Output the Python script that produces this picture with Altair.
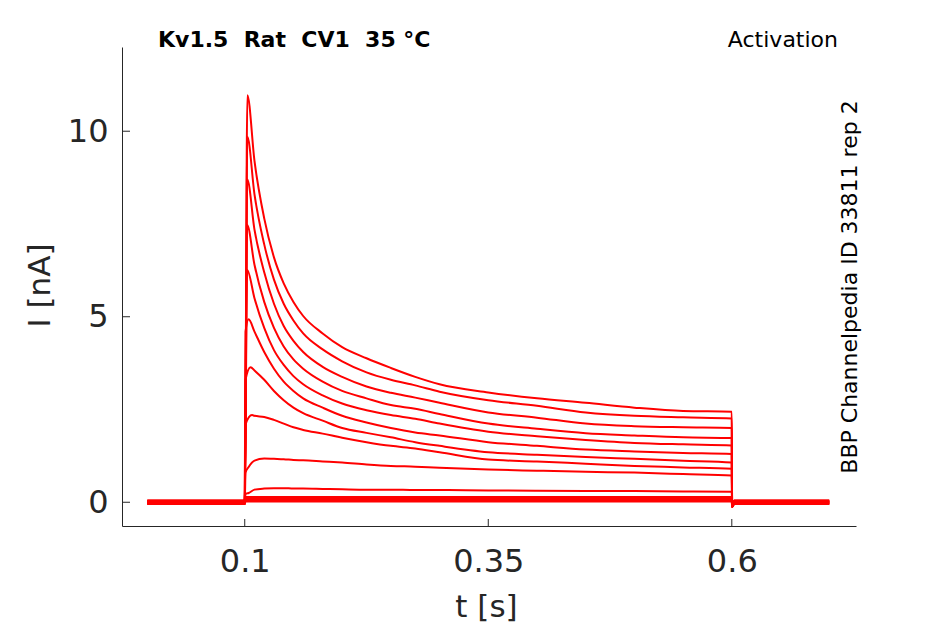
import altair as alt
import pandas as pd

# ---------------- data ----------------
T_GRID = [0.11, 0.12, 0.13, 0.14, 0.15, 0.16, 0.18, 0.20, 0.225, 0.25,
          0.275, 0.30, 0.35, 0.40, 0.45, 0.50, 0.55, 0.60]

# holding current of each sweep (before step / after step)
HOLD = [0.01, -0.02, 0.04, -0.04, 0.00, 0.05, -0.05, 0.02, -0.01, 0.04,
        -0.03, 0.01, -0.05, 0.03]

RISE_T = 0.1008
RISE_I = [None, None, None, None, None, 4.60, 3.30, 2.10, 0.80, 0.22,
          0.14, 0.09, 0.05, 0.02]
FIRST_T = [0.1027, 0.1027, 0.1026, 0.1025, 0.1025, 0.1040, 0.1060, 0.1075,
           0.1040, 0.1040, 0.1030, 0.1030, 0.1030, 0.1030]
FIRST_I = [10.97, 9.85, 8.70, 7.47, 6.26, 4.93, 3.64, 2.35, 0.95, 0.25,
           0.14, 0.09, 0.05, 0.02]

TRACE_01 = [9.20, 7.65, 6.60, 5.90, 5.40, 5.02, 4.55, 4.18, 3.88, 3.62, 3.38, 3.18, 2.96, 2.80, 2.68, 2.55, 2.46, 2.44]
TRACE_02 = [8.30, 6.95, 6.00, 5.35, 4.90, 4.55, 4.12, 3.80, 3.50, 3.30, 3.15, 2.98, 2.75, 2.60, 2.42, 2.33, 2.29, 2.26]
TRACE_03 = [7.35, 6.20, 5.35, 4.75, 4.35, 4.05, 3.65, 3.38, 3.12, 2.95, 2.82, 2.68, 2.42, 2.28, 2.12, 2.05, 2.02, 2.00]
TRACE_04 = [6.40, 5.40, 4.70, 4.20, 3.85, 3.60, 3.25, 3.00, 2.80, 2.62, 2.52, 2.38, 2.12, 1.98, 1.86, 1.80, 1.75, 1.73]
TRACE_05 = [5.50, 4.70, 4.10, 3.70, 3.40, 3.18, 2.88, 2.66, 2.48, 2.35, 2.25, 2.12, 1.90, 1.78, 1.68, 1.60, 1.56, 1.53]
TRACE_06 = [4.60, 4.05, 3.60, 3.25, 3.00, 2.80, 2.55, 2.33, 2.15, 2.00, 1.88, 1.80, 1.62, 1.52, 1.42, 1.37, 1.33, 1.30]
TRACE_07 = [3.55, 3.30, 3.00, 2.75, 2.55, 2.40, 2.20, 2.00, 1.87, 1.75, 1.62, 1.52, 1.35, 1.28, 1.22, 1.17, 1.12, 1.07]
TRACE_08 = [2.33, 2.30, 2.22, 2.12, 2.02, 1.95, 1.85, 1.74, 1.62, 1.52, 1.45, 1.35, 1.15, 1.10, 1.04, 0.98, 0.94, 0.90]
TRACE_09 = [1.12, 1.18, 1.17, 1.16, 1.14, 1.13, 1.10, 1.07, 1.02, 0.98, 0.96, 0.93, 0.88, 0.85, 0.82, 0.80, 0.76, 0.72]
TRACE_10 = [0.34, 0.37, 0.38, 0.38, 0.37, 0.37, 0.36, 0.35, 0.34, 0.34, 0.33, 0.33, 0.32, 0.31, 0.30, 0.30, 0.29, 0.28]
TRACE_11 = [0.14] * 18
TRACE_12 = [0.09] * 18
TRACE_13 = [0.05] * 18
TRACE_14 = [0.02] * 18

TRACES = [TRACE_01, TRACE_02, TRACE_03, TRACE_04, TRACE_05, TRACE_06, TRACE_07,
          TRACE_08, TRACE_09, TRACE_10, TRACE_11, TRACE_12, TRACE_13, TRACE_14]

T_START, T_ON, T_OFF, T_END = 0.0, 0.1, 0.6, 0.7
OFF_DIP_T, OFF_DIP_I, OFF_BACK_T = 0.6003, -0.12, 0.6025

X_TICKS = [0.1, 0.35, 0.6]
Y_TICKS = [0, 5, 10]
X_DOMAIN = [-0.026, 0.7275]
Y_DOMAIN = [-0.64, 12.27]

NB = "\u00a0"
TITLE_LEFT = f"Kv1.5 {NB}Rat {NB}CV1 {NB}35 °C"
TITLE_RIGHT = "Activation"
SIDE_TEXT = "BBP Channelpedia ID 33811 rep 2"
X_TITLE = "t [s]"
Y_TITLE = "I [nA]"

# ---------------- build table ----------------
rows = []
for k, vals in enumerate(TRACES):
    h = HOLD[k]
    pts = [(T_START, h), (T_ON, h)]
    if RISE_I[k] is not None:
        pts.append((RISE_T, RISE_I[k]))
    pts.append((FIRST_T[k], FIRST_I[k]))
    pts += list(zip(T_GRID, vals))
    pts += [(OFF_DIP_T, OFF_DIP_I), (OFF_BACK_T, h), (T_END, h)]
    for i, (t, v) in enumerate(pts):
        rows.append({"sweep": k, "order": i, "t": t, "I": v})
df = pd.DataFrame(rows)

W, H = 734, 479
FONT = "DejaVu Sans"
AX = "#262626"

xscale = alt.Scale(domain=X_DOMAIN, nice=False, zero=False)
yscale = alt.Scale(domain=Y_DOMAIN, nice=False, zero=False)

x_axis = alt.Axis(
    values=X_TICKS, format=".2~f", title=X_TITLE, ticks=False, grid=False,
    domainColor=AX, domainWidth=1, labelFont=FONT, labelFontSize=32,
    labelColor=AX, labelPadding=20, labelFlush=False, labelOverlap=False,
    titleFont=FONT, titleFontSize=31, titleFontWeight="normal", titleColor=AX,
    titleX=364, titleY=90, titleAlign="center", titleBaseline="alphabetic")
y_axis = alt.Axis(
    values=Y_TICKS, format="d", title=Y_TITLE, ticks=False, grid=False,
    domainColor=AX, domainWidth=1, labelFont=FONT, labelFontSize=32,
    labelColor=AX, labelPadding=14, labelFlush=False, labelOverlap=False,
    titleFont=FONT, titleFontSize=31, titleFontWeight="normal", titleColor=AX,
    titleAngle=270, titleX=-73, titleY=238, titleAlign="center",
    titleBaseline="alphabetic")

lines = alt.Chart(df).mark_line(color="#ff0000", strokeWidth=2, strokeJoin="round",
                                interpolate="monotone").encode(
    x=alt.X("t:Q", scale=xscale, axis=x_axis),
    y=alt.Y("I:Q", scale=yscale, axis=y_axis),
    detail="sweep:N",
    order="order:Q",
)

xt = alt.Chart(pd.DataFrame({"t": X_TICKS})).mark_rule(color=AX, strokeWidth=1).encode(
    x=alt.X("t:Q", scale=xscale, axis=x_axis),
    y=alt.value(H - 7), y2=alt.value(H),
)
yt = alt.Chart(pd.DataFrame({"I": Y_TICKS})).mark_rule(color=AX, strokeWidth=1).encode(
    y=alt.Y("I:Q", scale=yscale, axis=y_axis),
    x=alt.value(0), x2=alt.value(8),
)

t_left = alt.Chart(pd.DataFrame({"s": [TITLE_LEFT]})).mark_text(
    font=FONT, fontSize=22, fontWeight="bold", color="black",
    align="left", baseline="alphabetic").encode(
    text="s:N", x=alt.value(36), y=alt.value(0))
t_right = alt.Chart(pd.DataFrame({"s": [TITLE_RIGHT]})).mark_text(
    font=FONT, fontSize=22, color="black",
    align="right", baseline="alphabetic").encode(
    text="s:N", x=alt.value(716), y=alt.value(0))
t_side = alt.Chart(pd.DataFrame({"s": [SIDE_TEXT]})).mark_text(
    font=FONT, fontSize=22, color="black", angle=270,
    align="center", baseline="alphabetic").encode(
    text="s:N", x=alt.value(735), y=alt.value(240))

chart = alt.layer(lines, xt, yt, t_left, t_right, t_side).properties(
    width=W, height=H,
    autosize=alt.AutoSizeParams(type="none"),
    padding={"left": 114, "top": 39, "right": 78, "bottom": 96},
    background="white",
).configure_view(stroke=None)

chart.save("out.html", embed_options={"renderer": "svg", "actions": False})
